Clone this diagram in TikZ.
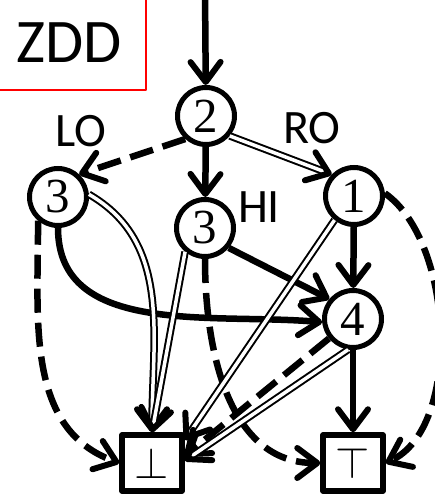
\documentclass[tikz,border=0pt]{standalone}
\usepackage{fontspec}
\newfontfamily\numfont{Liberation Serif}
\newfontfamily\tagfont{Carlito}
\usetikzlibrary{arrows.meta}

\begin{document}
\begin{tikzpicture}[x=1pt,y=1pt,line join=round,
  >={Straight Barb[length=20pt,width=30pt,line width=6pt,round]},
  vert/.style={circle,draw,fill=white,line width=5pt,minimum size=57pt,inner sep=0pt,
    font=\numfont\fontsize{49}{49}\selectfont},
  term/.style={rectangle,draw,fill=white,line width=5.5pt,minimum width=60pt,
    minimum height=56pt,inner sep=0pt},
  hi/.style={->,line width=6.5pt},
  lo/.style={->,line width=6.5pt,dash pattern=on 24pt off 10pt},
  ro/.style={->,line width=2pt,double,double distance=3.5pt},
  tag/.style={font=\tagfont\fontsize{48}{48}\selectfont}]
\useasboundingbox (0,0) rectangle (435,495);

% title box
\draw[red,line width=2pt] (-10,405) rectangle (146,505);
\node[font=\tagfont\fontsize{62}{62}\selectfont] (title) at (69,452) {ZDD};

% nodes
\coordinate (entry) at (205,505);
\node[vert] (n2) at (206,379) {2};
\node[vert] (l3) at (58,298) {3};
\node[vert] (m3) at (205,267) {3};
\node[vert] (n1) at (354,299) {1};
\node[vert] (n4) at (353,176) {4};
\node[term] (bot) at (152,32) {\scalebox{4.4}{$\bot$}};
\node[term] (top) at (353,32) {\scalebox{4.4}{$\top$}};

% edges
\draw[hi] (entry) -- (n2);
\draw[lo] (n2.228) -- (l3.47);
\draw[hi] (n2) -- (m3);
\draw[ro] (n2.-40) -- (n1.136);
\draw[hi] (l3.south) to[out=-90,in=175] (n4.186);
\draw[ro] (l3.5) to[out=-30,in=90] (bot.north);
\draw[lo] (l3.-130) to[out=-90,in=160] (bot.west);
\draw[hi] (m3.-40) -- (n4.140);
\draw[ro] (m3.-130) -- (bot.north);
\draw[lo] (m3.south) to[out=-90,in=180] (top.west);
\draw[hi] (n1) -- (n4);
\draw[ro] (n1.-129) -- (bot.35);
\draw[lo] (n1.5) to[out=-35,in=25,looseness=0.8] (top.east);
\draw[hi] (n4) -- (top);
\draw[lo] (n4.-141) -- (bot.12);
\draw[ro] (n4.-99) -- (bot.4);

% edge labels
\node[tag] (lotag) at (81,364) {LO};
\node[tag] (rotag) at (312,367) {RO};
\node[tag] (hitag) at (259,288) {HI};
\end{tikzpicture}
\end{document}
